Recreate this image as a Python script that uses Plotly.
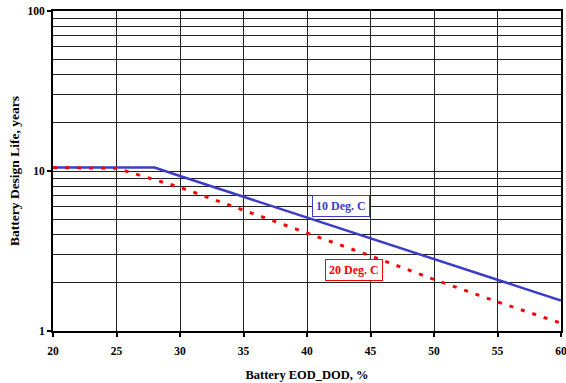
import plotly.graph_objects as go

# Data
dod_10 = [20, 28, 30, 35, 40, 45, 50, 55, 60]
life_10 = [10.5, 10.5, 9.3, 6.9, 5.1, 3.8, 2.8, 2.08, 1.55]
dod_20 = [20, 25, 30, 35, 40, 45, 50, 55, 60]
life_20 = [10.5, 10.4, 7.9, 5.7, 4.1, 2.95, 2.1, 1.52, 1.12]

x_ticks = [20, 25, 30, 35, 40, 45, 50, 55, 60]
y_ticks = [1, 10, 100]
y_minor = [2, 3, 4, 5, 6, 7, 8, 9, 20, 30, 40, 50, 60, 70, 80, 90]

font_fam = "Liberation Serif"

fig = go.Figure()
fig.add_trace(go.Scatter(x=dod_10, y=life_10, mode="lines",
                         line=dict(color="#3c3cc8", width=2.5), name="10 Deg. C"))
fig.add_trace(go.Scatter(x=dod_20, y=life_20, mode="lines",
                         line=dict(color="#ff0000", width=3, dash="4px,8px"), name="20 Deg. C"))

fig.add_annotation(x=42.7, y=0.781, text="<b>10 Deg. C</b>", showarrow=False,
                   font=dict(family=font_fam, size=12, color="#3c3cc8"),
                   bordercolor="#3c3cc8", borderwidth=1, borderpad=3, bgcolor="white")
fig.add_annotation(x=43.7, y=0.384, text="<b>20 Deg. C</b>", showarrow=False,
                   font=dict(family=font_fam, size=12, color="#ff0000"),
                   bordercolor="#ff0000", borderwidth=1, borderpad=3, bgcolor="white")

fig.update_layout(
    width=566, height=383,
    margin=dict(l=53, r=5, t=11, b=52),
    paper_bgcolor="white", plot_bgcolor="white",
    showlegend=False,
    font=dict(family=font_fam, size=11, color="black"),
)
fig.update_xaxes(
    range=[20, 60], tickvals=x_ticks, automargin=False, ticklabeloverflow="allow",
    tickfont=dict(family=font_fam, size=11.5, color="black", weight="bold"),
    ticklabelstandoff=4,
    showgrid=True, gridcolor="#222222", gridwidth=1,
    showline=True, linecolor="black", linewidth=2, mirror=True,
    ticks="outside", ticklen=4, tickwidth=2, tickcolor="black",
    zeroline=False,
    title=dict(text="<b>Battery EOD_DOD, %</b>", font=dict(family=font_fam, size=12.5), standoff=14),
)
fig.update_yaxes(
    type="log", range=[0, 2], tickvals=y_ticks, ticktext=["1", "10", "100"], automargin=False,
    tickfont=dict(family=font_fam, size=11.5, color="black", weight="bold"),
    showgrid=True, gridcolor="#222222", gridwidth=1,
    showline=True, linecolor="black", linewidth=2, mirror=True,
    ticks="outside", ticklen=4, tickwidth=2, tickcolor="black",
    minor=dict(tickvals=y_minor, showgrid=True, gridcolor="#222222", gridwidth=1, ticks=""),
    zeroline=False,
    title=dict(text="<b>Battery Design Life, years</b>", font=dict(family=font_fam, size=13.5), standoff=5),
)

fig.write_html("out.html")
